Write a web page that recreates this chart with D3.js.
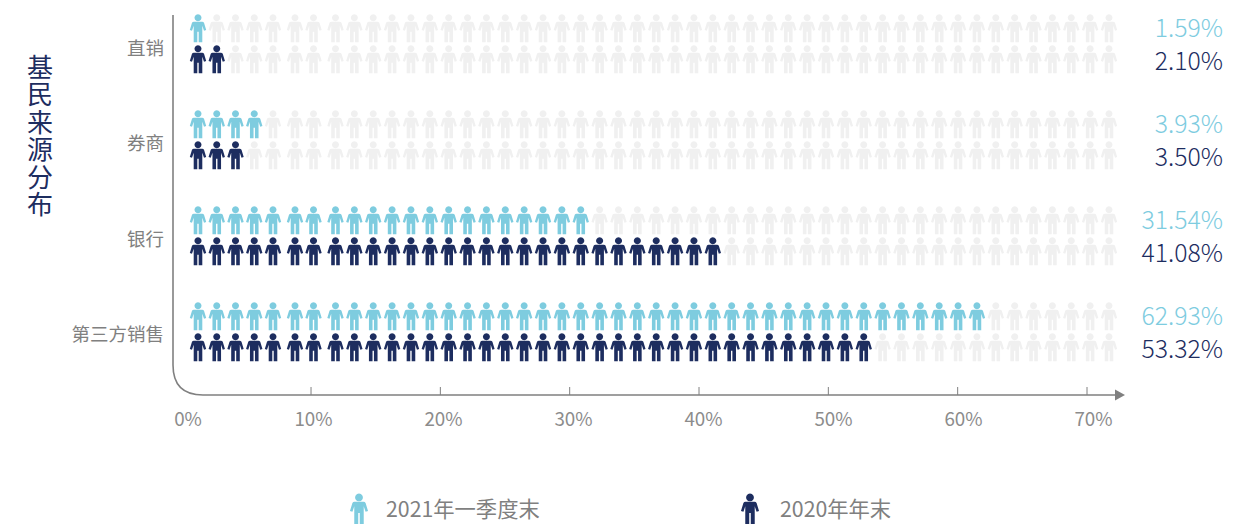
<!DOCTYPE html>
<html>
<head>
<meta charset="utf-8">
<script src="https://cdn.jsdelivr.net/npm/d3@7"></script>
<style>
html, body { margin: 0; padding: 0; background: #fff; }
text { font-family: "Noto Sans CJK SC", "Noto Sans", sans-serif; }
</style>
</head>
<body>
<div id="chart"></div>
<script>
var CATEGORIES = ["直销", "券商", "银行", "第三方销售"];
var SERIES_NAMES = ["2021年一季度末", "2020年年末"];
var VALUES_2021 = [1.59, 3.93, 31.54, 62.93];
var VALUES_2020 = [2.10, 3.50, 41.08, 53.32];
//number of filled figures, counted off the picture
var FILLED_2021 = [1, 4, 21, 42];
var FILLED_2020 = [2, 3, 28, 36];
var TICKS = [0, 10, 20, 30, 40, 50, 60, 70];
var TITLE = "基民来源分布";
var COLORS = ["#7eccdf", "#1d2d5f"];
var EMPTY = "#f0f0f0";
var ICON_COUNT = 49;

var width = 1251, height = 524;

var svg = d3.select("#chart").append("svg")
    .attr("width", width)
    .attr("height", height)
    .style("display", "block");

//x for the tick marks
var x = d3.scaleLinear().domain([0, 70]).range([181.7, 1087]);
//the tick labels in the original don't sit quite under their marks
var xLabel = d3.scaleLinear().domain([0, 10, 70]).range([188, 313.5, 1093.5]);
//column position of the figures, the original has two slightly wider gaps
var col = d3.scaleLinear().domain([0, 4, 5, 6, 7, 48]).range([198, 273, 295, 313.5, 335.5, 1109]);
//category band, each holds two rows
var y = d3.scaleBand().domain(CATEGORIES).range([-4.25, 379.75]).padding(0);
//category labels are spaced a little tighter than the rows
var yLabel = d3.scalePoint().domain(CATEGORIES).range([55, 341]);
var rowOffset = [-15.5, 15.5];
var valueOffset = [-7, 26.5];

//figure drawn around its centre, 16 wide and 28 high
var PERSON = "M0,-14a3.5,3.5 0 1 1 -0.01,0Z" +
    "M-4.2,-6.6 L4.2,-6.6 Q5.4,-6.6 6,-5.4 L8.2,1.8 L6,2.6 L4.3,-2.4 L4.3,14 L0.7,14 L0.7,3.6 L-0.7,3.6 L-0.7,14 L-4.3,14 L-4.3,-2.4 L-6,2.6 L-8.2,1.8 L-6,-5.4 Q-5.4,-6.6 -4.2,-6.6Z";

var rows = svg.append("g").attr("class", "rows");
var vals = [VALUES_2021, VALUES_2020];

CATEGORIES.forEach(function (cat, c) {
    var mid = y(cat) + y.bandwidth() / 2;

    [FILLED_2021, FILLED_2020].forEach(function (filled, s) {
        rows.append("g")
            .selectAll("path")
            .data(d3.range(ICON_COUNT))
            .enter().append("path")
            .attr("d", PERSON)
            .attr("transform", function (d) {
                return "translate(" + col(d) + "," + (mid + rowOffset[s]) + ")";
            })
            .style("fill", function (d) {
                return d < filled[c] ? COLORS[s] : EMPTY;
            });

        svg.append("text")
            .attr("x", 1223)
            .attr("y", mid + valueOffset[s])
            .attr("text-anchor", "end")
            .style("font-size", "24.8px")
            .style("font-weight", 300)
            .style("fill", COLORS[s])
            .text(vals[s][c].toFixed(2) + "%");
    });

    svg.append("text")
        .attr("x", 164)
        .attr("y", yLabel(cat))
        .attr("text-anchor", "end")
        .style("font-size", "18.5px")
        .style("fill", "#808080")
        .text(cat);
});

//axes, rounded corner at the origin
svg.append("path")
    .attr("d", "M173,15 L173,365 Q173,395 203,395 L1116,395")
    .style("fill", "none")
    .style("stroke", "#808080")
    .style("stroke-width", 1.6);
svg.append("path")
    .attr("d", "M1115,389.5 L1125,395 L1115,400.5 Z")
    .style("fill", "#808080");

svg.selectAll("line.tick")
    .data(TICKS.slice(1))
    .enter().append("line")
    .attr("class", "tick")
    .attr("x1", function (d) { return x(d); })
    .attr("x2", function (d) { return x(d); })
    .attr("y1", 387)
    .attr("y2", 395)
    .style("stroke", "#808080");

svg.selectAll("text.tick")
    .data(TICKS)
    .enter().append("text")
    .attr("class", "tick")
    .attr("x", function (d) { return xLabel(d); })
    .attr("y", 426)
    .attr("text-anchor", "middle")
    .style("font-size", "18.8px")
    .style("fill", "#8c8c8c")
    .text(function (d) { return d + "%"; });

//vertical title
svg.append("text")
    .attr("transform", "translate(40,54)")
    .style("writing-mode", "vertical-rl")
    .style("font-size", "26px")
    .style("letter-spacing", "1.5px")
    .style("fill", COLORS[1])
    .text(TITLE);

//legend
var legendX = [359, 750], legendTextX = [386, 780];
SERIES_NAMES.forEach(function (name, i) {
    var item = svg.append("g").attr("class", "legend");
    item.append("path")
        .attr("d", PERSON)
        .attr("transform", "translate(" + legendX[i] + ",509) scale(1.1)")
        .style("fill", COLORS[i]);
    item.append("text")
        .attr("x", legendTextX[i])
        .attr("y", 517)
        .style("font-size", "21.3px")
        .style("fill", "#808080")
        .text(name);
});
</script>
</body>
</html>
